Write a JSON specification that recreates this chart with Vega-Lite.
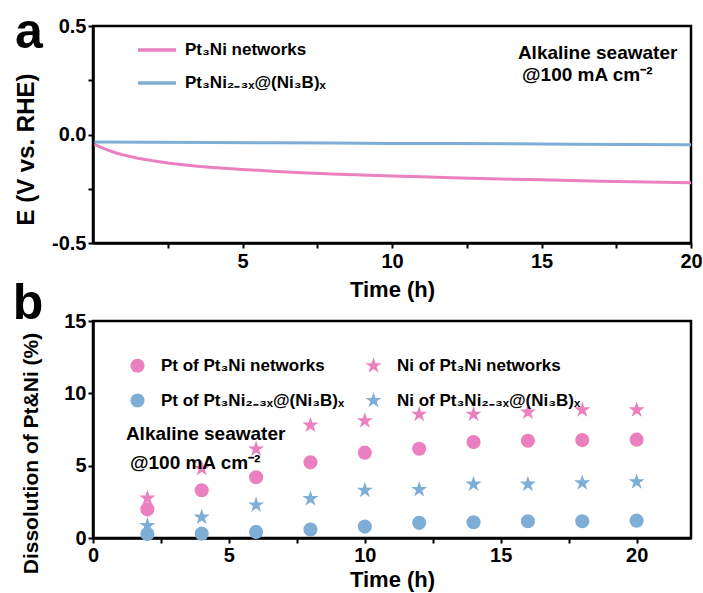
{
  "$schema": "https://vega.github.io/schema/vega-lite/v6.json",
  "padding": {"left": 11, "top": 6, "right": 8, "bottom": 0},
  "background": "white",
  "spacing": 78,
  "bounds": "flush",
  "resolve": {"scale": {"color": "independent", "shape": "independent"}, "legend": {"color": "independent", "shape": "independent"}},
  "config": {
    "font": "Liberation Sans",
    "view": {"stroke": "black", "strokeWidth": 2.5},
    "axis": {"domainColor": "black", "domainWidth": 2.5, "tickColor": "black", "tickWidth": 2, "tickSize": 5,
      "labelFont": "Liberation Sans", "labelFontSize": 20, "labelFontWeight": "bold", "labelColor": "black",
      "titleFont": "Liberation Sans", "titleFontSize": 22, "titleFontWeight": "bold", "titleColor": "black",
      "grid": false, "labelOverlap": false, "labelFlush": false},
    "legend": {"labelFont": "Liberation Sans", "labelFontSize": 17, "labelFontWeight": "bold", "labelColor": "black", "labelLimit": 400}
  },
  "vconcat": [
    {
      "width": 598, "height": 217,
      "layer": [
        {
          "data": {"values": [
            {"s": "Pt₃Ni networks", "t": 0.05, "E": -0.045},
            {"s": "Pt₃Ni networks", "t": 0.25, "E": -0.058},
            {"s": "Pt₃Ni networks", "t": 0.5, "E": -0.072},
            {"s": "Pt₃Ni networks", "t": 0.75, "E": -0.084},
            {"s": "Pt₃Ni networks", "t": 1, "E": -0.094},
            {"s": "Pt₃Ni networks", "t": 1.5, "E": -0.109},
            {"s": "Pt₃Ni networks", "t": 2, "E": -0.121},
            {"s": "Pt₃Ni networks", "t": 2.5, "E": -0.131},
            {"s": "Pt₃Ni networks", "t": 3, "E": -0.139},
            {"s": "Pt₃Ni networks", "t": 3.5, "E": -0.146},
            {"s": "Pt₃Ni networks", "t": 4, "E": -0.152},
            {"s": "Pt₃Ni networks", "t": 5, "E": -0.161},
            {"s": "Pt₃Ni networks", "t": 6, "E": -0.169},
            {"s": "Pt₃Ni networks", "t": 7, "E": -0.176},
            {"s": "Pt₃Ni networks", "t": 8, "E": -0.182},
            {"s": "Pt₃Ni networks", "t": 9, "E": -0.187},
            {"s": "Pt₃Ni networks", "t": 10, "E": -0.191},
            {"s": "Pt₃Ni networks", "t": 11, "E": -0.195},
            {"s": "Pt₃Ni networks", "t": 12, "E": -0.199},
            {"s": "Pt₃Ni networks", "t": 13, "E": -0.203},
            {"s": "Pt₃Ni networks", "t": 14, "E": -0.206},
            {"s": "Pt₃Ni networks", "t": 15, "E": -0.209},
            {"s": "Pt₃Ni networks", "t": 16, "E": -0.212},
            {"s": "Pt₃Ni networks", "t": 17, "E": -0.215},
            {"s": "Pt₃Ni networks", "t": 18, "E": -0.218},
            {"s": "Pt₃Ni networks", "t": 19, "E": -0.220},
            {"s": "Pt₃Ni networks", "t": 20, "E": -0.222},
            {"s": "Pt₃Ni₂₋₃ₓ@(Ni₃B)ₓ", "t": 0.05, "E": -0.035},
            {"s": "Pt₃Ni₂₋₃ₓ@(Ni₃B)ₓ", "t": 2, "E": -0.036},
            {"s": "Pt₃Ni₂₋₃ₓ@(Ni₃B)ₓ", "t": 4, "E": -0.037},
            {"s": "Pt₃Ni₂₋₃ₓ@(Ni₃B)ₓ", "t": 6, "E": -0.038},
            {"s": "Pt₃Ni₂₋₃ₓ@(Ni₃B)ₓ", "t": 8, "E": -0.039},
            {"s": "Pt₃Ni₂₋₃ₓ@(Ni₃B)ₓ", "t": 10, "E": -0.041},
            {"s": "Pt₃Ni₂₋₃ₓ@(Ni₃B)ₓ", "t": 12, "E": -0.042},
            {"s": "Pt₃Ni₂₋₃ₓ@(Ni₃B)ₓ", "t": 14, "E": -0.043},
            {"s": "Pt₃Ni₂₋₃ₓ@(Ni₃B)ₓ", "t": 16, "E": -0.045},
            {"s": "Pt₃Ni₂₋₃ₓ@(Ni₃B)ₓ", "t": 18, "E": -0.046},
            {"s": "Pt₃Ni₂₋₃ₓ@(Ni₃B)ₓ", "t": 20, "E": -0.047}
          ]},
          "mark": {"type": "line", "strokeWidth": 3, "clip": true},
          "encoding": {
            "x": {"field": "t", "type": "quantitative", "scale": {"domain": [0, 20], "nice": false, "zero": false},
              "axis": {"title": "Time (h)", "values": [2.5, 5, 7.5, 10, 12.5, 15, 17.5, 20],
                "labelExpr": "datum.value % 5 == 0 ? datum.label : ''", "labelPadding": 3, "titlePadding": 8}},
            "y": {"field": "E", "type": "quantitative", "scale": {"domain": [-0.5, 0.5], "nice": false},
              "axis": {"title": "E (V vs. RHE)", "values": [-0.5, -0.25, 0, 0.25, 0.5],
                "labelExpr": "datum.value == 0.5 ? '0.5' : datum.value == 0 ? '0.0' : datum.value == -0.5 ? '-0.5' : ''",
                "titleFontSize": 24, "titleX": -55, "titleY": 123}},
            "color": {"field": "s", "type": "nominal",
              "scale": {"domain": ["Pt₃Ni networks", "Pt₃Ni₂₋₃ₓ@(Ni₃B)ₓ"], "range": ["#EA80BF", "#7EADD6"]},
              "legend": {"title": null, "orient": "none", "legendX": 43, "legendY": 3, "symbolType": "stroke",
                "symbolSize": 1444, "symbolStrokeWidth": 3.5, "rowPadding": 4, "labelOffset": 7}}
          }
        },
        {
          "data": {"values": [{"label": "a"}]},
          "mark": {"type": "text", "fontSize": 50, "fontWeight": "bold", "align": "center", "baseline": "alphabetic", "fill": "black"},
          "encoding": {"x": {"datum": -2.14, "type": "quantitative"}, "y": {"datum": 0.399, "type": "quantitative"}, "text": {"field": "label"}}
        },
        {
          "data": {"values": [{"label": "Alkaline seawater"}]},
          "mark": {"type": "text", "fontSize": 19, "fontWeight": "bold", "align": "left", "baseline": "alphabetic", "fill": "black"},
          "encoding": {"x": {"datum": 14.21, "type": "quantitative"}, "y": {"datum": 0.348, "type": "quantitative"}, "text": {"field": "label"}}
        },
        {
          "data": {"values": [{"label": "@100 mA cm⁻²"}]},
          "mark": {"type": "text", "fontSize": 19, "fontWeight": "bold", "align": "left", "baseline": "alphabetic", "fill": "black"},
          "encoding": {"x": {"datum": 14.35, "type": "quantitative"}, "y": {"datum": 0.247, "type": "quantitative"}, "text": {"field": "label"}}
        }
      ]
    },
    {
      "width": 598, "height": 217,
      "layer": [
        {
          "data": {"values": [
            {"s": "Pt of Pt₃Ni networks", "t": 2, "D": 1.98},
            {"s": "Pt of Pt₃Ni networks", "t": 4, "D": 3.3},
            {"s": "Pt of Pt₃Ni networks", "t": 6, "D": 4.2},
            {"s": "Pt of Pt₃Ni networks", "t": 8, "D": 5.23},
            {"s": "Pt of Pt₃Ni networks", "t": 10, "D": 5.9},
            {"s": "Pt of Pt₃Ni networks", "t": 12, "D": 6.17},
            {"s": "Pt of Pt₃Ni networks", "t": 14, "D": 6.63},
            {"s": "Pt of Pt₃Ni networks", "t": 16, "D": 6.72},
            {"s": "Pt of Pt₃Ni networks", "t": 18, "D": 6.77},
            {"s": "Pt of Pt₃Ni networks", "t": 20, "D": 6.8},
            {"s": "Ni of Pt₃Ni networks", "t": 2, "D": 2.75},
            {"s": "Ni of Pt₃Ni networks", "t": 4, "D": 4.8},
            {"s": "Ni of Pt₃Ni networks", "t": 6, "D": 6.15},
            {"s": "Ni of Pt₃Ni networks", "t": 8, "D": 7.8},
            {"s": "Ni of Pt₃Ni networks", "t": 10, "D": 8.1},
            {"s": "Ni of Pt₃Ni networks", "t": 12, "D": 8.55},
            {"s": "Ni of Pt₃Ni networks", "t": 14, "D": 8.55},
            {"s": "Ni of Pt₃Ni networks", "t": 16, "D": 8.7},
            {"s": "Ni of Pt₃Ni networks", "t": 18, "D": 8.85},
            {"s": "Ni of Pt₃Ni networks", "t": 20, "D": 8.85},
            {"s": "Pt of Pt₃Ni₂₋₃ₓ@(Ni₃B)ₓ", "t": 2, "D": 0.28},
            {"s": "Pt of Pt₃Ni₂₋₃ₓ@(Ni₃B)ₓ", "t": 4, "D": 0.3},
            {"s": "Pt of Pt₃Ni₂₋₃ₓ@(Ni₃B)ₓ", "t": 6, "D": 0.42},
            {"s": "Pt of Pt₃Ni₂₋₃ₓ@(Ni₃B)ₓ", "t": 8, "D": 0.58},
            {"s": "Pt of Pt₃Ni₂₋₃ₓ@(Ni₃B)ₓ", "t": 10, "D": 0.79},
            {"s": "Pt of Pt₃Ni₂₋₃ₓ@(Ni₃B)ₓ", "t": 12, "D": 1.05},
            {"s": "Pt of Pt₃Ni₂₋₃ₓ@(Ni₃B)ₓ", "t": 14, "D": 1.09},
            {"s": "Pt of Pt₃Ni₂₋₃ₓ@(Ni₃B)ₓ", "t": 16, "D": 1.16},
            {"s": "Pt of Pt₃Ni₂₋₃ₓ@(Ni₃B)ₓ", "t": 18, "D": 1.16},
            {"s": "Pt of Pt₃Ni₂₋₃ₓ@(Ni₃B)ₓ", "t": 20, "D": 1.2},
            {"s": "Ni of Pt₃Ni₂₋₃ₓ@(Ni₃B)ₓ", "t": 2, "D": 0.86},
            {"s": "Ni of Pt₃Ni₂₋₃ₓ@(Ni₃B)ₓ", "t": 4, "D": 1.44},
            {"s": "Ni of Pt₃Ni₂₋₃ₓ@(Ni₃B)ₓ", "t": 6, "D": 2.28},
            {"s": "Ni of Pt₃Ni₂₋₃ₓ@(Ni₃B)ₓ", "t": 8, "D": 2.72},
            {"s": "Ni of Pt₃Ni₂₋₃ₓ@(Ni₃B)ₓ", "t": 10, "D": 3.3},
            {"s": "Ni of Pt₃Ni₂₋₃ₓ@(Ni₃B)ₓ", "t": 12, "D": 3.35},
            {"s": "Ni of Pt₃Ni₂₋₃ₓ@(Ni₃B)ₓ", "t": 14, "D": 3.72},
            {"s": "Ni of Pt₃Ni₂₋₃ₓ@(Ni₃B)ₓ", "t": 16, "D": 3.72},
            {"s": "Ni of Pt₃Ni₂₋₃ₓ@(Ni₃B)ₓ", "t": 18, "D": 3.81},
            {"s": "Ni of Pt₃Ni₂₋₃ₓ@(Ni₃B)ₓ", "t": 20, "D": 3.88}
          ]},
          "mark": {"type": "point", "filled": true, "opacity": 1, "size": 200},
          "encoding": {
            "x": {"field": "t", "type": "quantitative", "scale": {"domain": [0, 22], "nice": false, "zero": false},
              "axis": {"title": "Time (h)", "values": [0, 2.5, 5, 7.5, 10, 12.5, 15, 17.5, 20],
                "labelExpr": "datum.value % 5 == 0 ? datum.label : ''", "labelPadding": 2, "titlePadding": 4}},
            "y": {"field": "D", "type": "quantitative", "scale": {"domain": [0, 15], "nice": false},
              "axis": {"title": "Dissolution of Pt&Ni (%)", "values": [0, 2.5, 5, 7.5, 10, 12.5, 15],
                "labelExpr": "datum.value % 5 == 0 ? datum.label : ''", "titleFontSize": 21, "titleX": -52, "titleY": 132}},
            "color": {"field": "s", "type": "nominal",
              "scale": {"domain": ["Pt of Pt₃Ni networks", "Pt of Pt₃Ni₂₋₃ₓ@(Ni₃B)ₓ", "Ni of Pt₃Ni networks", "Ni of Pt₃Ni₂₋₃ₓ@(Ni₃B)ₓ"],
                "range": ["#EA80BF", "#7EADD6", "#EA80BF", "#7EADD6"]},
              "legend": {"title": null, "orient": "none", "legendX": 36, "legendY": 36, "columns": 2, "columnPadding": 17,
                "rowPadding": 13, "symbolSize": 200, "labelOffset": 15, "symbolOpacity": 1}},
            "shape": {"field": "s", "type": "nominal",
              "scale": {"domain": ["Pt of Pt₃Ni networks", "Pt of Pt₃Ni₂₋₃ₓ@(Ni₃B)ₓ", "Ni of Pt₃Ni networks", "Ni of Pt₃Ni₂₋₃ₓ@(Ni₃B)ₓ"],
                "range": ["circle", "circle", "M0,-1.2L0.27,-0.371L1.141,-0.371L0.436,0.142L0.706,0.971L0,0.458L-0.706,0.971L-0.436,0.142L-1.141,-0.371L-0.27,-0.371Z", "M0,-1.2L0.27,-0.371L1.141,-0.371L0.436,0.142L0.706,0.971L0,0.458L-0.706,0.971L-0.436,0.142L-1.141,-0.371L-0.27,-0.371Z"]},
              "legend": {"title": null, "orient": "none", "legendX": 36, "legendY": 36, "columns": 2, "columnPadding": 17,
                "rowPadding": 13, "symbolSize": 200, "labelOffset": 15, "symbolOpacity": 1}}
          }
        },
        {
          "data": {"values": [{"label": "b"}]},
          "mark": {"type": "text", "fontSize": 50, "fontWeight": "bold", "align": "center", "baseline": "alphabetic", "fill": "black"},
          "encoding": {"x": {"datum": -2.39, "type": "quantitative"}, "y": {"datum": 15.14, "type": "quantitative"}, "text": {"field": "label"}}
        },
        {
          "data": {"values": [{"label": "Alkaline seawater"}]},
          "mark": {"type": "text", "fontSize": 19, "fontWeight": "bold", "align": "left", "baseline": "alphabetic", "fill": "black"},
          "encoding": {"x": {"datum": 1.21, "type": "quantitative"}, "y": {"datum": 6.77, "type": "quantitative"}, "text": {"field": "label"}}
        },
        {
          "data": {"values": [{"label": "@100 mA cm⁻²"}]},
          "mark": {"type": "text", "fontSize": 19, "fontWeight": "bold", "align": "left", "baseline": "alphabetic", "fill": "black"},
          "encoding": {"x": {"datum": 1.36, "type": "quantitative"}, "y": {"datum": 4.77, "type": "quantitative"}, "text": {"field": "label"}}
        }
      ]
    }
  ]
}
